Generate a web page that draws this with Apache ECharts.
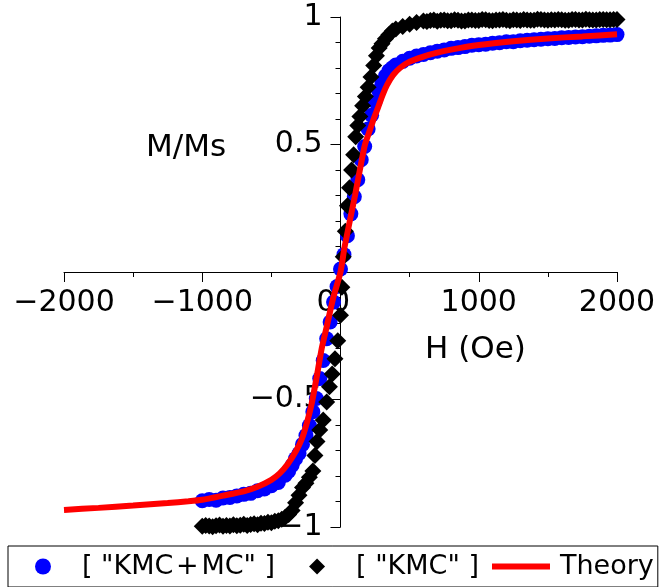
<!DOCTYPE html>
<html>
<head>
<meta charset="utf-8">
<script src="https://cdn.jsdelivr.net/npm/echarts@6/dist/echarts.min.js"></script>
<style>
html, body { margin: 0; padding: 0; background: #fff; }
#main { width: 659px; height: 587px; }
</style>
</head>
<body>
<div id="main"></div>
<script>
// KMC+MC simulation (blue circles)
var kmcmcH = [-1000,-950,-900,-850,-800,-750,-700,-650,-600,-550,-500,-450,-400,-375,-350,-325,-300,-275,-250,-225,-200,-175,-150,-125,-100,-75,-50,-25,0,25,50,75,100,125,150,175,200,225,250,275,300,325,350,375,400,450,500,550,600,650,700,750,800,850,900,950,1000,1050,1100,1150,1200,1250,1300,1350,1400,1450,1500,1550,1600,1650,1700,1750,1800,1850,1900,1950,2000];
var kmcmcM = [-0.897,-0.892,-0.895,-0.886,-0.884,-0.878,-0.872,-0.868,-0.858,-0.851,-0.838,-0.825,-0.797,-0.781,-0.758,-0.732,-0.712,-0.676,-0.641,-0.602,-0.548,-0.496,-0.418,-0.347,-0.262,-0.196,-0.118,-0.057,0.012,0.068,0.142,0.228,0.295,0.362,0.44,0.492,0.561,0.615,0.668,0.712,0.742,0.768,0.789,0.801,0.812,0.826,0.838,0.847,0.853,0.86,0.866,0.871,0.877,0.88,0.884,0.889,0.891,0.893,0.897,0.899,0.903,0.903,0.907,0.909,0.911,0.913,0.915,0.916,0.919,0.92,0.922,0.923,0.925,0.926,0.928,0.929,0.931];

// KMC simulation (black diamonds)
var kmcH = [-1000,-975,-950,-925,-900,-875,-850,-825,-800,-775,-750,-725,-700,-675,-650,-625,-600,-575,-550,-525,-500,-475,-450,-425,-400,-375,-350,-325,-300,-275,-250,-225,-200,-185,-170,-150,-125,-100,-80,-60,-40,-20,0,10,20,35,50,65,80,95,110,125,140,160,180,200,220,240,260,280,300,325,350,375,400,450,500,550,600,625,650,675,700,725,750,775,800,825,850,875,900,925,950,975,1000,1025,1050,1075,1100,1125,1150,1175,1200,1225,1250,1275,1300,1325,1350,1375,1400,1425,1450,1475,1500,1525,1550,1575,1600,1625,1650,1675,1700,1725,1750,1775,1800,1825,1850,1875,1900,1925,1950,1975,2000];
var kmcM = [-0.997,-0.994,-0.996,-0.999,-0.995,-0.992,-0.997,-0.994,-0.996,-0.991,-0.995,-0.993,-0.989,-0.994,-0.99,-0.987,-0.991,-0.985,-0.986,-0.981,-0.983,-0.977,-0.975,-0.97,-0.962,-0.951,-0.935,-0.905,-0.875,-0.845,-0.828,-0.805,-0.78,-0.72,-0.665,-0.62,-0.58,-0.51,-0.45,-0.4,-0.34,-0.27,-0.17,-0.06,0.06,0.16,0.26,0.33,0.4,0.46,0.53,0.575,0.61,0.652,0.688,0.725,0.765,0.81,0.848,0.878,0.895,0.915,0.93,0.945,0.953,0.963,0.972,0.978,0.984,0.982,0.986,0.988,0.983,0.987,0.988,0.985,0.985,0.989,0.987,0.984,0.984,0.988,0.988,0.986,0.986,0.99,0.989,0.986,0.985,0.988,0.988,0.99,0.987,0.985,0.989,0.988,0.986,0.99,0.988,0.987,0.987,0.991,0.99,0.988,0.987,0.989,0.988,0.99,0.989,0.987,0.987,0.99,0.99,0.988,0.988,0.991,0.989,0.988,0.988,0.99,0.99,0.989,0.989,0.99,0.99];

// Theory curve (red line)
var theoryH = [-2000,-1750,-1500,-1250,-1100,-1000,-850,-700,-600,-500,-440,-380,-320,-280,-245,-210,-175,-136,-100,-52,0,30,105,140,177,213,243,273,305,336,380,430,500,600,700,800,1000,1250,1500,1750,2000];
var theoryM = [-0.933,-0.925,-0.916,-0.906,-0.899,-0.893,-0.877,-0.86,-0.842,-0.815,-0.79,-0.752,-0.7,-0.655,-0.595,-0.52,-0.42,-0.3,-0.215,-0.1,0,0.1,0.3,0.4,0.5,0.557,0.605,0.647,0.695,0.733,0.772,0.8,0.825,0.845,0.86,0.872,0.89,0.905,0.916,0.924,0.932];

function pairs(xs, ys) {
    return xs.map(function (x, i) { return [x, ys[i]]; });
}
function minus(v) {
    return String(v).replace('-', '\u2212');
}

var font = 'DejaVu Sans';
var gridW = 553, gridH = 510;
var myChart = echarts.init(document.getElementById('main'));

var option = {
    animation: false,
    backgroundColor: '#fff',
    grid: { left: 64, top: 17, width: gridW, height: gridH, containLabel: false, outerBoundsMode: 'none' },
    xAxis: {
        type: 'value',
        min: -2000,
        max: 2000,
        interval: 1000,
        position: 'bottom',
        offset: -gridH / 2,
        splitLine: { show: false },
        axisLine: { onZero: false, lineStyle: { color: '#000', width: 1 } },
        axisTick: { length: 10, lineStyle: { color: '#000' } },
        minorTick: { show: true, splitNumber: 2, length: 5, lineStyle: { color: '#000' } },
        axisLabel: {
            color: '#000', fontSize: 30, fontFamily: font, margin: 16,
            hideOverlap: false,
            formatter: function (v) { return minus(v); }
        }
    },
    yAxis: {
        type: 'value',
        min: -1,
        max: 1,
        interval: 0.5,
        position: 'left',
        offset: -gridW / 2,
        splitLine: { show: false },
        axisLine: { onZero: false, lineStyle: { color: '#000', width: 1 } },
        axisTick: { length: 10, lineStyle: { color: '#000' } },
        minorTick: { show: true, splitNumber: 5, length: 5, lineStyle: { color: '#000' } },
        axisLabel: {
            color: '#000', fontSize: 30, fontFamily: font, margin: 18,
            formatter: function (v) { return v === 0 ? '' : minus(v); }
        }
    },
    legend: {
        left: 8,
        bottom: 0,
        orient: 'horizontal',
        padding: [7, 4, 7, 6],
        itemGap: 13,
        itemWidth: 58,
        itemHeight: 16,
        borderColor: '#000',
        borderWidth: 1,
        borderRadius: 0,
        textStyle: { color: '#000', fontSize: 27, fontFamily: font, padding: [0, 0, 0, 5] },
        formatter: function (name) {
            return name === '[ "KMC+MC" ]' ? '[ "KMC\u200a+\u200aMC" ]' : name;
        },
        data: [
            { name: '[ "KMC+MC" ]', icon: 'path://M0,0M58,16M21,8a8,8 0 1,0 16,0a8,8 0 1,0 -16,0z' },
            { name: '[ "KMC" ]', icon: 'path://M0,0M58,16M29,0L37,8L29,16L21,8Z' },
            { name: 'Theory', icon: 'path://M0,0M58,16M0,5L58,5L58,11L0,11Z' }
        ]
    },
    graphic: [
        {
            type: 'text', left: 146, top: 132,
            style: { text: 'M/Ms', fontSize: 31, fontFamily: font, fill: '#000' }
        },
        {
            type: 'text', left: 425, top: 334,
            style: { text: 'H (Oe)', fontSize: 31, fontFamily: font, fill: '#000' }
        },
        {
            // origin label of the H axis, hidden by the library where the axes cross
            type: 'text', x: 326, y: 288,
            style: { text: '0', fontSize: 30, fontFamily: font, fill: '#000', align: 'center', verticalAlign: 'top' }
        }
    ],
    series: [
        {
            name: '[ "KMC+MC" ]',
            type: 'scatter',
            symbol: 'circle',
            symbolSize: 15,
            itemStyle: { color: '#0000ff', opacity: 1 },
            data: pairs(kmcmcH, kmcmcM)
        },
        {
            name: '[ "KMC" ]',
            type: 'scatter',
            symbol: 'diamond',
            symbolSize: 17,
            itemStyle: { color: '#000000', opacity: 1 },
            data: pairs(kmcH, kmcM)
        },
        {
            name: 'Theory',
            type: 'line',
            symbol: 'none',
            smooth: 0.2,
            lineStyle: { color: '#ff0000', width: 6 },
            itemStyle: { color: '#ff0000' },
            data: pairs(theoryH, theoryM)
        }
    ]
};

myChart.setOption(option);
</script>
</body>
</html>
